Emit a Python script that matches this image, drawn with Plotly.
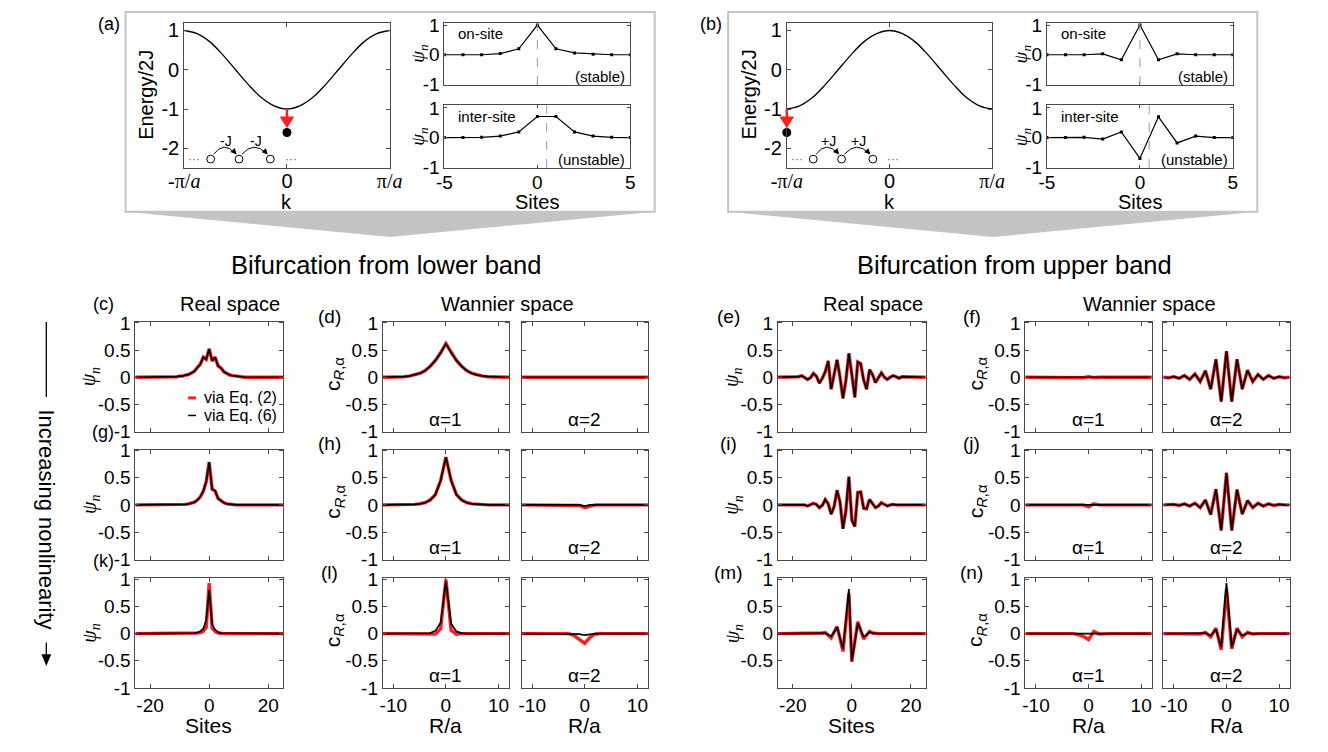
import plotly.graph_objects as go

W, H = 1328, 752
FONT = "Liberation Sans, Arial, Helvetica, sans-serif"
SERIF = "Liberation Serif, Times New Roman, serif"
AXC = "#4a4a4a"
RED = "#ff1e1e"
BOXGRAY = "#c4c4c4"

# ------------------------------------------------------------------ data
k_band = [-1, -0.875, -0.75, -0.625, -0.5, -0.375, -0.25, -0.125, 0,
          0.125, 0.25, 0.375, 0.5, 0.625, 0.75, 0.875, 1]
E_lower_band = [1, 0.92, 0.71, 0.38, 0, -0.38, -0.71, -0.92, -1,
                -0.92, -0.71, -0.38, 0, 0.38, 0.71, 0.92, 1]
E_upper_band = [-1, -0.92, -0.71, -0.38, 0, 0.38, 0.71, 0.92, 1,
                0.92, 0.71, 0.38, 0, -0.38, -0.71, -0.92, -1]
k_bound_lower = [0]
k_bound_upper = [-1]
E_band_edge = -1.0
E_bound = [-1.6]

sites_small = [-5, -4, -3, -2, -1, 0, 1, 2, 3, 4, 5]
psi_a_onsite = [0, 0, 0, 0.04, 0.2, 1, 0.2, 0.06, 0.02, 0, 0]
psi_a_intersite = [0, 0, 0.01, 0.05, 0.19, 0.71, 0.71, 0.19, 0.05, 0.01, 0]
psi_b_onsite = [0, 0, 0, 0.03, -0.17, 1, -0.17, 0.03, 0, 0, 0]
psi_b_intersite = [0, 0, 0.01, -0.05, 0.19, -0.7, 0.7, -0.18, 0.05, 0, 0]
center_onsite = 0
center_intersite = 0.5

sites = list(range(-25, 26))
cells = list(range(-12, 13))

# real space, lower band (c), (g), (k)
psi_c = [0, 0, 0, 0, 0, 0, 0, 0, 0, 0, 0, 0, 0,
         0.01, 0.01, 0.02, 0.02, 0.04, 0.05, 0.08, 0.11, 0.18, 0.24, 0.37, 0.33,
         0.52,
         0.3, 0.37, 0.21, 0.17, 0.1, 0.07, 0.04, 0.03, 0.02, 0.01, 0.01,
         0, 0, 0, 0, 0, 0, 0, 0, 0, 0, 0, 0, 0, 0]
psi_g = [0, 0, 0, 0, 0, 0, 0, 0, 0, 0, 0, 0, 0, 0, 0, 0,
         0.01, 0.01, 0.02, 0.03, 0.05, 0.09, 0.15, 0.25, 0.43,
         0.79,
         0.29, 0.26, 0.12, 0.08, 0.04, 0.02, 0.01, 0.01,
         0, 0, 0, 0, 0, 0, 0, 0, 0, 0, 0, 0, 0, 0, 0, 0, 0]
psi_k_eq6 = [0, 0, 0, 0, 0, 0, 0, 0, 0, 0, 0, 0, 0, 0, 0, 0, 0, 0, 0, 0,
             0.01, 0.02, 0.04, 0.09, 0.25, 0.8, 0.17, 0.07, 0.03, 0.01, 0.01,
             0, 0, 0, 0, 0, 0, 0, 0, 0, 0, 0, 0, 0, 0, 0, 0, 0, 0, 0, 0]
psi_k_eq2 = [0, 0, 0, 0, 0, 0, 0, 0, 0, 0, 0, 0, 0, 0, 0, 0, 0, 0, 0, 0,
             0, 0.01, 0.02, 0.04, 0.12, 0.93, 0.1, 0.04, 0.01, 0, 0,
             0, 0, 0, 0, 0, 0, 0, 0, 0, 0, 0, 0, 0, 0, 0, 0, 0, 0, 0, 0]
# real space, upper band (e), (i), (m)
psi_e = [0, 0, 0, 0, 0, 0, 0,
         0.01, 0.03, 0, -0.04, -0.01, 0.07, 0.02, -0.11, -0.02, 0.1,
         0.3, -0.22, 0.05, 0.32, 0.0, -0.39, -0.05, 0.44, 0.05, -0.37,
         0.28, 0.25, -0.05, -0.22, 0.14, 0.05, -0.1, -0.02, 0.08, 0.0,
         -0.04, 0.0, 0.03, 0.01, -0.02, 0.01, 0.01,
         0, 0, 0, 0, 0, 0, 0]
psi_i = [0, 0, 0, 0, 0, 0, 0, 0, 0, 0,
         -0.02, 0, 0.03, 0.01, -0.05, -0.01, 0.1, 0.02, -0.17, -0.03,
         0.27, 0.05, -0.44, -0.1, 0.52, -0.28, -0.4, 0.23, 0.24, -0.06,
         -0.07, 0.1, 0.03, -0.05, -0.02, 0.04, 0.01, -0.02, 0.0, 0.01,
         0, 0, 0, 0, 0, 0, 0, 0, 0, 0, 0]
psi_m_eq6 = [0, 0, 0, 0, 0, 0, 0, 0, 0, 0, 0, 0, 0, 0,
             0.0, 0.01, 0.01, -0.02, -0.05, 0.03, 0.12, -0.08, -0.28, 0.25,
             0.82, -0.5, -0.15, 0.19, 0.07, -0.06, -0.02, 0.03, 0.01, 0.0,
             0, 0, 0, 0, 0, 0, 0, 0, 0, 0, 0, 0, 0, 0, 0, 0, 0]
psi_m_eq2 = [0, 0, 0, 0, 0, 0, 0, 0, 0, 0, 0, 0, 0, 0,
             0.0, 0.01, 0.02, -0.03, -0.08, 0.03, 0.13, -0.09, -0.33, 0.2,
             0.74, -0.52, -0.14, 0.22, 0.06, -0.1, -0.03, 0.04, 0.01, 0.0,
             0, 0, 0, 0, 0, 0, 0, 0, 0, 0, 0, 0, 0, 0, 0, 0, 0]

# Wannier coefficients, lower band (d), (h), (l)
c_d1 = [0, 0, 0, 0.01, 0.01, 0.02, 0.04, 0.07, 0.12, 0.2, 0.31, 0.45, 0.62,
        0.45, 0.31, 0.2, 0.12, 0.07, 0.04, 0.02, 0.01, 0.01, 0, 0, 0]
c_d2 = [0, 0, 0, 0, 0, 0, 0, 0, 0, 0, 0, 0, -0.01,
        0, 0, 0, 0, 0, 0, 0, 0, 0, 0, 0, 0]
c_h1 = [0, 0, 0, 0, 0, 0, 0.01, 0.02, 0.04, 0.09, 0.19, 0.45, 0.88,
        0.45, 0.19, 0.09, 0.04, 0.02, 0.01, 0, 0, 0, 0, 0, 0]
c_h2_eq6 = [0, 0, 0, 0, 0, 0, 0, 0, 0, 0, 0, 0, -0.02,
            0, 0, 0, 0, 0, 0, 0, 0, 0, 0, 0, 0]
c_h2_eq2 = [0, 0, 0, 0, 0, 0, 0, 0, 0, 0, 0, -0.01, -0.05,
            -0.02, 0, 0, 0, 0, 0, 0, 0, 0, 0, 0, 0]
c_l1_eq6 = [0, 0, 0, 0, 0, 0, 0, 0, 0, 0.01, 0.05, 0.2, 0.96,
            0.18, 0.04, 0.01, 0, 0, 0, 0, 0, 0, 0, 0, 0]
c_l1_eq2 = [0, 0, 0, 0, 0, 0, 0, 0, 0, 0, -0.01, 0.09, 1.0,
            0.06, -0.01, 0, 0, 0, 0, 0, 0, 0, 0, 0, 0]
c_l2_eq6 = [0, 0, 0, 0, 0, 0, 0, 0, 0, 0, 0, -0.01, -0.03,
            -0.01, 0, 0, 0, 0, 0, 0, 0, 0, 0, 0, 0]
c_l2_eq2 = [0, 0, 0, 0, 0, 0, 0, 0, 0, 0, -0.04, -0.12, -0.18,
            -0.07, -0.01, 0, 0, 0, 0, 0, 0, 0, 0, 0, 0]
# Wannier coefficients, upper band (f), (j), (n)
c_f1_eq6 = [0, 0, 0, 0, 0, 0, 0, 0, 0, 0, 0, 0, 0,
            0, 0, 0, 0, 0, 0, 0, 0, 0, 0, 0, 0]
c_f1_eq2 = [0, 0, 0, 0, 0, 0, 0, 0, 0, 0, 0, -0.01, 0.01,
            -0.01, 0, 0, 0, 0, 0, 0, 0, 0, 0, 0, 0]
c_f2 = [0, -0.01, 0.01, -0.02, 0.03, -0.04, 0.06, -0.08, 0.12, -0.22, 0.33, -0.45, 0.48,
        -0.45, 0.33, -0.22, 0.13, -0.08, 0.05, -0.04, 0.03, -0.02, 0.01, -0.01, 0]
c_j1_eq6 = [0, 0, 0, 0, 0, 0, 0, 0, 0, 0, 0, 0, 0,
            0, 0, 0, 0, 0, 0, 0, 0, 0, 0, 0, 0]
c_j1_eq2 = [0, 0, 0, 0, 0, 0, 0, 0, 0, 0, 0, 0, -0.035,
            0.02, 0, 0, 0, 0, 0, 0, 0, 0, 0, 0, 0]
c_j2 = [0, 0, 0.01, -0.01, 0.02, -0.02, 0.03, -0.05, 0.09, -0.18, 0.29, -0.47, 0.59,
        -0.47, 0.28, -0.17, 0.08, -0.05, 0.03, -0.02, 0.02, -0.01, 0.01, 0, 0]
c_n1_eq6 = [0, 0, 0, 0, 0, 0, 0, 0, 0, 0, 0, 0, -0.01,
            0, 0, 0, 0, 0, 0, 0, 0, 0, 0, 0, 0]
c_n1_eq2 = [0, 0, 0, 0, 0, 0, 0, 0, 0, 0, -0.02, -0.05, -0.11,
            0.04, -0.01, 0, 0, 0, 0, 0, 0, 0, 0, 0, 0]
c_n2_eq6 = [0, 0, 0, 0, 0, 0, 0, 0, 0.01, -0.04, 0.08, -0.25, 0.93,
            -0.25, 0.08, -0.04, 0.01, 0, 0, 0, 0, 0, 0, 0, 0]
c_n2_eq2 = [0, 0, 0, 0, 0, 0, 0, -0.01, 0.02, -0.06, 0.1, -0.3, 0.82,
            -0.28, 0.1, -0.06, 0.02, -0.01, 0, 0, 0, 0, 0, 0, 0]

for arr in [psi_c, psi_g, psi_k_eq6, psi_k_eq2, psi_e, psi_i, psi_m_eq6, psi_m_eq2]:
    assert len(arr) == len(sites), len(arr)
for arr in [c_d1, c_d2, c_h1, c_h2_eq6, c_h2_eq2, c_l1_eq6, c_l1_eq2, c_l2_eq6, c_l2_eq2,
            c_f1_eq6, c_f1_eq2, c_f2, c_j1_eq6, c_j1_eq2, c_j2, c_n1_eq6, c_n1_eq2,
            c_n2_eq6, c_n2_eq2]:
    assert len(arr) == len(cells), len(arr)

# ------------------------------------------------------------------ helpers
fig = go.Figure()
axes = {}
shapes = []
annotations = []
count = [0]


def P(x, y):
    return x / W, 1 - y / H


def make_axes(box, xr, yr, xtv, xtt, ytv, ytt, show_x=True, show_y=True, fs=19, tl=4,
              xstandoff=0):
    count[0] += 1
    s = "" if count[0] == 1 else str(count[0])
    x0, y0, x1, y1 = box
    common = dict(showline=True, linecolor=AXC, linewidth=1, mirror="allticks",
                  ticks="inside", ticklen=tl, tickwidth=1, tickcolor=AXC,
                  showgrid=False, zeroline=False, fixedrange=True, tickmode="array",
                  tickfont=dict(family=FONT, size=fs, color="black"))
    axes["xaxis" + s] = dict(common, domain=[x0 / W, x1 / W], range=xr, anchor="y" + s,
                             tickvals=xtv, ticktext=xtt, showticklabels=show_x,
                             ticklabelstandoff=xstandoff)
    axes["yaxis" + s] = dict(common, domain=[1 - y1 / H, 1 - y0 / H], range=yr, anchor="x" + s,
                             tickvals=ytv, ticktext=ytt, showticklabels=show_y)
    return "x" + s, "y" + s


def line(xa, ya, x, y, color, width, **kw):
    fig.add_trace(go.Scatter(x=x, y=y, xaxis=xa, yaxis=ya, mode="lines",
                             line=dict(color=color, width=width), hoverinfo="skip", **kw))


def text(x, y, s, size, anchor="center", angle=0, family=FONT, color="black"):
    px, py = P(x, y)
    annotations.append(dict(x=px, y=py, xref="paper", yref="paper", text=s, showarrow=False,
                            xanchor=anchor, yanchor="middle", textangle=angle,
                            font=dict(family=family, size=size, color=color)))


def to_px(box, xr, yr, x, y):
    x0, y0, x1, y1 = box
    return (x0 + (x - xr[0]) / (xr[1] - xr[0]) * (x1 - x0),
            y1 - (y - yr[0]) / (yr[1] - yr[0]) * (y1 - y0))


def poly(points, fill, line_color=None, lw=0):
    d = ""
    for i, (x, y) in enumerate(points):
        px, py = P(x, y)
        d += ("M" if i == 0 else "L") + f"{px:.5f},{py:.5f} "
    d += "Z"
    shapes.append(dict(type="path", path=d, xref="paper", yref="paper", fillcolor=fill,
                       line=dict(color=line_color or fill, width=lw)))


def seg(p0, p1, color, width, dash="solid"):
    a = P(*p0)
    b = P(*p1)
    shapes.append(dict(type="line", xref="paper", yref="paper", x0=a[0], y0=a[1], x1=b[0], y1=b[1],
                       line=dict(color=color, width=width, dash=dash)))


def head(tip, direction, length, half_w, color):
    dx, dy = direction
    n = (dx * dx + dy * dy) ** 0.5
    dx, dy = dx / n, dy / n
    bx, by = tip[0] - length * dx, tip[1] - length * dy
    px_, py_ = -dy, dx
    poly([tip, (bx + half_w * px_, by + half_w * py_), (bx - half_w * px_, by - half_w * py_)], color)


def chain(off, jtxt):
    cy = 154
    xs = [199 + off, 228 + off, 260 + off]
    for cx in xs:
        a = P(cx - 4, cy + 4)
        b = P(cx + 4, cy - 4)
        shapes.append(dict(type="circle", xref="paper", yref="paper", x0=a[0], y0=a[1],
                           x1=b[0], y1=b[1], line=dict(color="black", width=1)))
    text(182 + off, cy, "···", 12, color="#666666")
    text(281 + off, cy, "···", 12, color="#666666")
    for xa, xb in [(xs[0], xs[1]), (xs[1], xs[2])]:
        p0 = (xa + 3, cy - 5)
        c = ((xa + xb) / 2 - 1, cy - 19)
        p1 = (xb - 4, cy - 6)
        a, cc, b = P(*p0), P(*c), P(*p1)
        shapes.append(dict(type="path", xref="paper", yref="paper",
                           path=f"M{a[0]:.5f},{a[1]:.5f} Q{cc[0]:.5f},{cc[1]:.5f} {b[0]:.5f},{b[1]:.5f}",
                           line=dict(color="black", width=1)))
        head((p1[0] + 1.5, p1[1] + 1.2), (p1[0] - c[0], p1[1] - c[1]), 6, 3, "black")
        text((xa + xb) / 2 + 1, cy - 19, jtxt, 14)


# ------------------------------------------------------------------ top panels (a), (b)
def top_block(off, label, E_band, k_bound, psi_on, psi_inter, jtxt):
    a = P(112 + off, 208)
    b = P(653 + off, 3)
    shapes.append(dict(type="rect", xref="paper", yref="paper", x0=a[0], y0=a[1], x1=b[0], y1=b[1],
                       line=dict(color=BOXGRAY, width=2), fillcolor="rgba(0,0,0,0)"))
    poly([(112 + off, 208), (653 + off, 208), (382.5 + off, 234)], BOXGRAY)
    text(95 + off, 15, label, 18)

    boxE = (172 + off, 14, 382 + off, 163)
    xrE, yrE = [-1, 1], [-2.5, 1.2]
    ser = "font-family:Liberation Serif"
    xa, ya = make_axes(boxE, xrE, yrE, [-1, 0, 1],
                       [f"<span style='{ser}'>-π/<i>a</i></span>", "0",
                        f"<span style='{ser}'>π/<i>a</i></span>"],
                       [-2, -1, 0, 1], ["-2", "-1", "0", "1"], fs=20, tl=4, xstandoff=-5)
    fig.add_trace(go.Scatter(x=k_band, y=E_band, xaxis=xa, yaxis=ya, mode="lines",
                             line=dict(color="black", width=1.3, shape="spline"), hoverinfo="skip"))
    ex, ey = to_px(boxE, xrE, yrE, k_bound[0], E_band_edge)
    dx, dy = to_px(boxE, xrE, yrE, k_bound[0], E_bound[0])
    tip = (ex, dy - 4.5)
    seg((ex, ey), (ex, tip[1] - 10), RED, 2.5)
    head(tip, (0, 1), 12, 7.5, RED)
    fig.add_trace(go.Scatter(x=k_bound, y=E_bound, xaxis=xa, yaxis=ya, mode="markers",
                             marker=dict(color="black", size=9), cliponaxis=False, hoverinfo="skip"))
    text(133 + off, 88, "Energy/2J", 20, angle=-90)
    text(277 + off, 198, "k", 20)
    chain(off, jtxt)

    xrP, yrP = [-5, 5], [-1.02, 1.08]
    for j, (yb, psi, center, tag, state) in enumerate(
            [((14, 78), psi_on, center_onsite, "on-site", "(stable)"),
             ((99, 163), psi_inter, center_intersite, "inter-site", "(unstable)")]):
        boxP = (438 + off, yb[0], 628 + off, yb[1])
        xa2, ya2 = make_axes(boxP, xrP, yrP, [-5, 0, 5], ["-5", "0", "5"],
                             [-1, 0, 1], ["-1", "0", "1"], show_x=(j == 1), fs=19, tl=3,
                             xstandoff=-3)
        c0 = to_px(boxP, xrP, yrP, center, -1.02)
        c1 = to_px(boxP, xrP, yrP, center, 1.08)
        seg(c0, c1, "#9a9a9a", 1, dash="dash")
        fig.add_trace(go.Scatter(x=sites_small, y=psi, xaxis=xa2, yaxis=ya2, mode="lines+markers",
                                 line=dict(color="black", width=1.2),
                                 marker=dict(symbol="square", size=3, color="black"),
                                 hoverinfo="skip"))
        text(450 + off, yb[0] + 11, tag, 15, anchor="left")
        text(625 + off, yb[1] - 9, state, 15, anchor="right")
        text(412 + off, (yb[0] + yb[1]) / 2, "<i>ψ</i><sub><i>n</i></sub>", 19, angle=-90, family=SERIF)
    text(533 + off, 198, "Sites", 20)


top_block(0, "(a)", E_lower_band, k_bound_lower, psi_a_onsite, psi_a_intersite, "-J")
top_block(616, "(b)", E_upper_band, k_bound_upper, psi_b_onsite, psi_b_intersite, "+J")

text(378, 263, "Bifurcation from lower band", 25.5)
text(1021, 263, "Bifurcation from upper band", 25.5)

# ------------------------------------------------------------------ bottom panels
rows_y = [(321, 434), (452, 565), (584, 697)]
cols = {"L": [(122, 273), (375, 504), (517, 646)],
        "R": [(779, 930), (1032, 1161), (1173, 1302)]}
real_data = {"L": [(psi_c, psi_c), (psi_g, psi_g), (psi_k_eq2, psi_k_eq6)],
             "R": [(psi_e, psi_e), (psi_i, psi_i), (psi_m_eq2, psi_m_eq6)]}
w1_data = {"L": [(c_d1, c_d1), (c_h1, c_h1), (c_l1_eq2, c_l1_eq6)],
           "R": [(c_f1_eq2, c_f1_eq6), (c_j1_eq2, c_j1_eq6), (c_n1_eq2, c_n1_eq6)]}
w2_data = {"L": [(c_d2, c_d2), (c_h2_eq2, c_h2_eq6), (c_l2_eq2, c_l2_eq6)],
           "R": [(c_f2, c_f2), (c_j2, c_j2), (c_n2_eq2, c_n2_eq6)]}
labels = {"L": [("(c)", "(d)"), ("(g)", "(h)"), ("(k)", "(l)")],
          "R": [("(e)", "(f)"), ("(i)", "(j)"), ("(m)", "(n)")]}
ytv = [-1, -0.5, 0, 0.5, 1]
ytt_full = ["-1", "-0.5", "0", "0.5", "1"]
ytt_nom1 = ["", "-0.5", "0", "0.5", "1"]
yr = [-1.01, 1.02]
RW, BW = 3.4, 1.7

for side in ["L", "R"]:
    off = 0 if side == "L" else 657
    for r, (y0, y1) in enumerate(rows_y):
        last = (r == 2)
        cx0, cx1 = cols[side][0]
        ytt = ytt_nom1 if (side == "R" and last) else ytt_full
        xa, ya = make_axes((cx0, y0, cx1, y1), [-25, 25], yr, [-20, 0, 20], ["-20", "0", "20"],
                           ytv, ytt, show_x=last, fs=19)
        red, blk = real_data[side][r]
        line(xa, ya, sites, red, RED, RW)
        line(xa, ya, sites, blk, "black", BW)
        text(76 + off, (y0 + y1) / 2, "<i>ψ</i><sub><i>n</i></sub>", 20, angle=-90, family=SERIF)
        for a_i, data in enumerate([w1_data, w2_data]):
            cx0, cx1 = cols[side][1 + a_i]
            xa, ya = make_axes((cx0, y0, cx1, y1), [-12, 12], yr, [-10, 0, 10], ["-10", "0", "10"],
                               ytv, ytt_full, show_x=last, show_y=(a_i == 0), fs=19)
            red, blk = data[side][r]
            line(xa, ya, cells, red, RED, RW)
            line(xa, ya, cells, blk, "black", BW)
            text((cx0 + cx1) / 2, y1 - 13, "α=%d" % (a_i + 1), 19)
            if last:
                text((cx0 + cx1) / 2, 735, "R/a", 21)
        text(325 + off, (y0 + y1) / 2 - 3, "c<sub><i>R</i>,α</sub>", 21, angle=-90)
        l1, l2 = labels[side][r]
        if side == "L":
            text(89, y0 - 18, l1, 18)
        else:
            text(728, y0 - 6, l1, 19)
        text(320 + off, y0 - 6, l2, 19)
    text(197 + off, 735, "Sites", 21)
    text(219 + off, 303, "Real space", 20)
    text(502 + off, 303, "Wannier space", 20)

# legend in (c)
seg((176, 399), (184, 399), RED, 3)
seg((176, 417), (184, 417), "black", 1.5)
text(190, 399, "via Eq. (2)", 16, anchor="left")
text(190, 417, "via Eq. (6)", 16, anchor="left")

# increasing nonlinearity arrow
seg((31, 321), (31, 398), "black", 1.3)
seg((31, 650), (31, 663), "black", 1.3)
head((31, 674), (0, 1), 12, 5, "black")
text(31, 524, "Increasing nonlinearity", 22, angle=90)

fig.update_layout(width=W, height=H, margin=dict(l=0, r=0, t=0, b=0),
                  paper_bgcolor="white", plot_bgcolor="white", showlegend=False,
                  shapes=shapes, annotations=annotations, **axes)
fig.write_html("out.html")
